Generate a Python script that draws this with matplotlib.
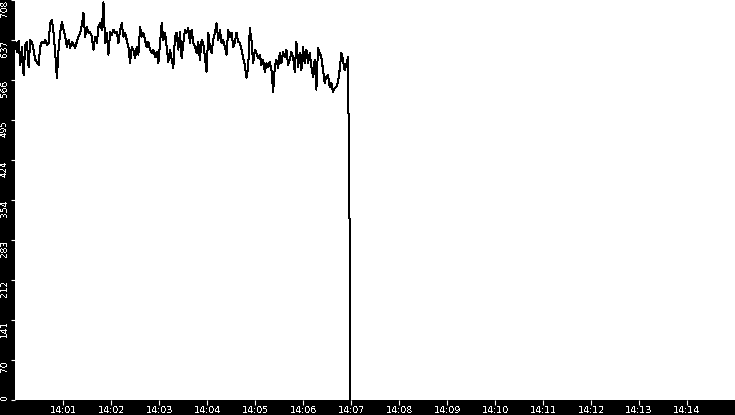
import datetime as dt

import matplotlib
matplotlib.use("Agg")
import matplotlib.pyplot as plt
import matplotlib.dates as mdates


# ==========================================
# DATA
# ==========================================

start = dt.datetime(2024, 1, 1, 14, 0, 0)
interval_s = 2.08

values = [
    # 14:00 - 14:01:45
    634, 616, 635, 593, 625, 575, 628, 634, 589, 637,
    634, 620, 602, 598, 593, 625, 634, 632, 637, 628,
    632, 667, 673, 650, 614, 570, 620, 650, 669, 655,
    643, 625, 637, 623, 634, 628, 623, 634, 643, 650,
    664, 685, 643, 660, 650, 651, 643, 620, 643, 632,
    660,
    # 14:01:45 - 14:03:30
    667, 655, 704, 632, 650, 611, 651, 646, 655, 650,
    651, 632, 655, 667, 643, 650, 637, 625, 596, 625,
    620, 605, 625, 611, 660, 643, 650, 637, 625, 634,
    620, 614, 620, 607, 616, 596, 632, 667, 637, 650,
    625, 598, 620, 602, 588, 643, 650, 620, 651, 605,
    632, 655,
    # 14:03:30 - 14:05:15
    650, 658, 632, 655, 632, 625, 614, 634, 602, 637,
    632, 607, 581, 650, 625, 614, 637, 650, 667, 637,
    655, 632, 637, 625, 611, 655, 643, 650, 625, 632,
    650, 634, 632, 620, 605, 593, 570, 589, 658, 637,
    596, 620, 614, 605, 611, 593, 602, 581, 596, 589,
    # 14:05:15 - 14:07
    598, 584, 545, 589, 602, 588, 614, 596, 616, 607,
    620, 593, 602, 616, 607, 581, 634, 589, 614, 584,
    625, 596, 620, 596, 614, 589, 572, 602, 549, 623,
    614, 607, 584, 561, 572, 575, 554, 561, 545, 552,
    554, 563, 584, 614, 602, 584, 593, 607,
]

# last two samples: the drop at 14:07
tail_seconds = [418.0, 419.0]
tail_values = [310, 0]

y_ticks = [0, 70, 141, 212, 283, 354, 424, 495, 566, 637, 708]
x_minutes = list(range(1, 15))


# ==========================================
# TIMESTAMPS
# ==========================================

times = [start + dt.timedelta(seconds=i * interval_s) for i in range(len(values))]
times += [start + dt.timedelta(seconds=s) for s in tail_seconds]
series = values + tail_values


# ==========================================
# PLOT
# ==========================================

plt.rcParams["text.antialiased"] = False

W, H = 735, 415
fig = plt.figure(figsize=(W / 100, H / 100), dpi=100, facecolor="black")

left_px = 15.3
bottom_px = 15.5
ax = fig.add_axes([left_px / W, bottom_px / H, 1 - left_px / W, 1 - bottom_px / H])
ax.set_facecolor("white")

ax.plot(times, series, color="black", linewidth=0.72, antialiased=False)

ax.set_xlim(start, start + dt.timedelta(minutes=15))
ax.set_ylim(0, 708)

for s in ax.spines.values():
    s.set_visible(False)

# x axis
ax.set_xticks([start + dt.timedelta(minutes=m) for m in x_minutes])
ax.xaxis.set_major_formatter(mdates.DateFormatter("%H:%M"))
ax.tick_params(axis="x", colors="white", direction="out", length=3.6,
               width=0.8, pad=0.8, labelsize=6.8)

# y axis
ax.set_yticks(y_ticks)
ax.set_yticklabels([str(v) for v in y_ticks])
ax.tick_params(axis="y", colors="white", direction="out", length=3,
               width=0.8, pad=1.5, labelsize=6.5)

for i, lab in enumerate(ax.get_yticklabels()):
    lab.set_rotation(90)
    lab.set_horizontalalignment("right")
    if i == 0:
        lab.set_verticalalignment("bottom")
    else:
        lab.set_verticalalignment("top")

fig.savefig("out.png", dpi=100, facecolor="black")
